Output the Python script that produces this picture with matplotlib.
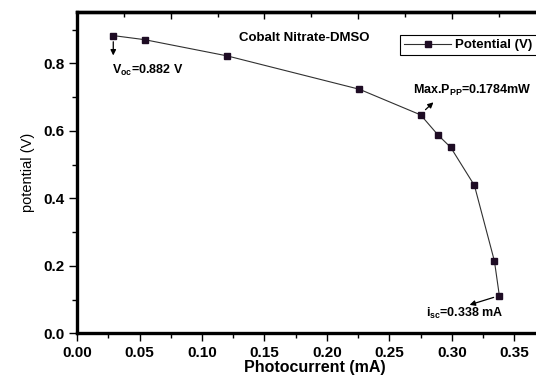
import numpy as np
import matplotlib.pyplot as plt
from matplotlib.ticker import MultipleLocator, FixedLocator

plt.rcParams['font.family'] = ['Liberation Sans', 'DejaVu Sans']
plt.rcParams['mathtext.fontset'] = 'custom'
plt.rcParams['mathtext.rm'] = 'Liberation Sans:bold'
plt.rcParams['mathtext.bf'] = 'Liberation Sans:bold'

# photocurrent (mA) vs potential (V)
current = [0.029, 0.054, 0.120, 0.226, 0.275, 0.289, 0.299, 0.318, 0.334, 0.338]
potential = [0.882, 0.870, 0.822, 0.723, 0.647, 0.587, 0.551, 0.438, 0.214, 0.110]

voc = 0.882
isc = 0.338
pmax = 0.1784

fig = plt.figure(figsize=(5.36, 3.75), dpi=100)
ax = fig.add_axes([0.1437, 0.111, 0.886, 0.858])

ax.plot(current, potential, color='#303030', lw=0.8, marker='s', ms=3.8,
        mfc='#1e0c24', mec='#1e0c24', label='Potential (V)')

ax.set_xlim(0, 0.38)
ax.set_ylim(0, 0.953)
ax.xaxis.set_major_locator(MultipleLocator(0.05))
ax.xaxis.set_minor_locator(MultipleLocator(0.025))
ax.yaxis.set_major_locator(MultipleLocator(0.2))
ax.yaxis.set_minor_locator(MultipleLocator(0.1))
ax.xaxis.set_major_formatter(plt.FormatStrFormatter('%.2f'))
ax.yaxis.set_major_formatter(plt.FormatStrFormatter('%.1f'))
ax.tick_params(which='major', direction='out', length=6, width=1, pad=3,
               labelsize=11)
ax.tick_params(which='minor', direction='out', length=3.5, width=1)
for lab in ax.get_xticklabels() + ax.get_yticklabels():
    lab.set_fontweight('bold')
for s in ax.spines.values():
    s.set_linewidth(2.4)

# top axis ticks (inward, no labels)
top = ax.secondary_xaxis('top')
top.xaxis.set_major_locator(FixedLocator([0.075, 0.15, 0.225, 0.30, 0.375]))
top.xaxis.set_minor_locator(FixedLocator([0.0375, 0.1125, 0.1875, 0.2625, 0.3375]))
top.tick_params(which='major', direction='in', length=5, width=1, labeltop=False)
top.tick_params(which='minor', direction='in', length=3.5, width=1)
top.spines['top'].set_linewidth(2.4)

ax.set_xlabel('Photocurrent (mA)', fontsize=11.5, fontweight='bold', labelpad=0)
ax.set_ylabel('potential (V)', fontsize=10.5, labelpad=6)

ax.text(0.1816, 0.866, 'Cobalt Nitrate-DMSO', fontsize=9.5, fontweight='bold',
        ha='center', va='baseline')

arrow = dict(arrowstyle='-|>', color='black', lw=0.9, mutation_scale=8)
ax.annotate('', xy=(0.029, 0.815), xytext=(0.029, 0.872), arrowprops=arrow)
ax.text(0.028, 0.768, r'V$_{\mathbf{oc}}$=%.3f V' % voc, fontsize=9,
        fontweight='bold', va='baseline')

ax.annotate('', xy=(0.2868, 0.690), xytext=(0.2772, 0.657), arrowprops=arrow)
ax.text(0.269, 0.709, r'Max.P$_{\mathbf{PP}}$=%.4fmW' % pmax, fontsize=9,
        fontweight='bold', va='baseline')

ax.annotate('', xy=(0.3120, 0.082), xytext=(0.3355, 0.109), arrowprops=arrow)
ax.text(0.279, 0.048, r'i$_{\mathbf{sc}}$=%.3f mA' % isc, fontsize=9,
        fontweight='bold', va='baseline')

leg = ax.legend(loc='upper left', bbox_to_anchor=(0.68, 0.927), borderaxespad=0,
                fancybox=False, edgecolor='black', framealpha=1,
                prop={'weight': 'bold', 'size': 9.5}, handlelength=3.6,
                handletextpad=0.3, borderpad=0.3)
leg.get_frame().set_linewidth(0.8)

fig.savefig('out.png', dpi=100)
